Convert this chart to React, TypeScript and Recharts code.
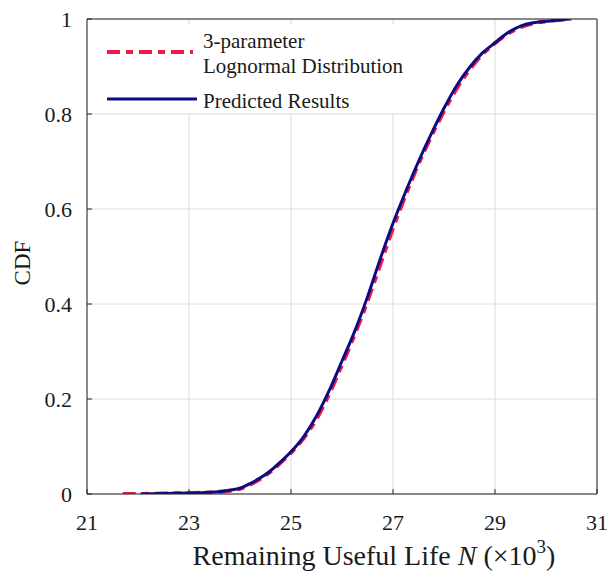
import React from 'react';
import { LineChart, Line, XAxis, YAxis, CartesianGrid, Legend } from 'recharts';

// Remaining useful life (x10^3 cycles) and CDF values
const lognormalN = [21.7, 22.0, 22.5, 23.0, 23.5, 23.8, 24.0, 24.2, 24.4, 24.6, 24.8, 25.0, 25.25, 25.5, 25.75, 26.0, 26.25, 26.5, 26.75, 27.0, 27.25, 27.5, 27.75, 28.0, 28.25, 28.5, 28.75, 29.0, 29.25, 29.5, 29.75, 30.0, 30.25, 30.5];
const lognormalCdf = [0.0, 0.0, 0.001, 0.002, 0.004, 0.007, 0.011, 0.02, 0.032, 0.047, 0.066, 0.087, 0.118, 0.158, 0.211, 0.272, 0.336, 0.406, 0.483, 0.56, 0.63, 0.695, 0.753, 0.806, 0.854, 0.893, 0.925, 0.949, 0.969, 0.983, 0.991, 0.995, 0.998, 1.0];

const predictedN = [22.05, 22.5, 23.0, 23.5, 23.8, 24.0, 24.2, 24.4, 24.6, 24.8, 25.0, 25.25, 25.5, 25.75, 26.0, 26.25, 26.5, 26.75, 27.0, 27.25, 27.5, 27.75, 28.0, 28.25, 28.5, 28.75, 29.0, 29.25, 29.5, 29.75, 30.0, 30.25, 30.47];
const predictedCdf = [0.0, 0.001, 0.002, 0.004, 0.008, 0.012, 0.022, 0.034, 0.049, 0.068, 0.089, 0.121, 0.164, 0.218, 0.28, 0.343, 0.415, 0.495, 0.57, 0.637, 0.7, 0.758, 0.812, 0.86, 0.898, 0.928, 0.95, 0.971, 0.985, 0.992, 0.995, 0.998, 1.0];

const xTicks = [21, 23, 25, 27, 29, 31];
const yTicks = [0, 0.2, 0.4, 0.6, 0.8, 1];

const seriesNames = ['3-parameter', 'Lognormal Distribution', 'Predicted Results'];

const lognormalData = lognormalN.map((n, i) => ({ n, cdf: lognormalCdf[i] }));
const predictedData = predictedN.map((n, i) => ({ n, cdf: predictedCdf[i] }));

const FONT = "Liberation Serif, Times New Roman, DejaVu Serif, serif";
const RED = '#f2184c';
const BLUE = '#0c0c80';
const AXIS = '#262626';
const TEXT = '#1a1a1a';

const renderLegend = () => (
  <svg width={330} height={89} style={{ display: 'block', fontFamily: FONT }}>
    <rect x={0} y={0} width={330} height={89} fill="#ffffff" />
    <line x1={17} x2={103} y1={28} y2={28} stroke={RED} strokeWidth={4} strokeDasharray="13 6 7 6" />
    <text x={113} y={24} fontFamily={FONT} fontSize={21} fill={TEXT}>{seriesNames[0]}</text>
    <text x={113} y={49} fontFamily={FONT} fontSize={21} fill={TEXT}>{seriesNames[1]}</text>
    <line x1={17} x2={107} y1={75} y2={75} stroke={BLUE} strokeWidth={3} />
    <text x={113} y={84} fontFamily={FONT} fontSize={21} fill={TEXT}>{seriesNames[2]}</text>
  </svg>
);

const XLabel = (props: any) => {
  const vb = props.viewBox || { x: 87, width: 510 };
  const cx = vb.x + vb.width / 2 + 32;
  return (
    <text x={cx} y={565} textAnchor="middle" fontFamily={FONT} fontSize={28} fill={TEXT} style={{ fontFamily: FONT }}>
      {'Remaining Useful Life '}
      <tspan fontStyle="italic">N</tspan>
      {' (×10'}
      <tspan dy={-12} fontSize={19}>3</tspan>
      <tspan dy={12}>)</tspan>
    </text>
  );
};

const YLabel = () => (
  <text
    x={22.5}
    y={263}
    transform="rotate(-90, 22.5, 263)"
    textAnchor="middle"
    dominantBaseline="central"
    fontFamily={FONT}
    fontSize={23}
    fill={TEXT}
    style={{ fontFamily: FONT }}
  >
    CDF
  </text>
);

const tickStyle = { fontFamily: FONT, fontSize: 22, fill: TEXT, style: { fontFamily: FONT } };

export default function App() {
  return (
    <div style={{ position: 'absolute', left: 0, top: 0, width: 609, height: 573, background: '#ffffff', fontFamily: FONT }}>
      <LineChart width={609} height={573} margin={{ top: 18, right: 11, bottom: 49, left: 27 }} style={{ fontFamily: FONT }}>
        <CartesianGrid stroke="#dcdcdc" strokeWidth={1} />
        <XAxis
          dataKey="n"
          type="number"
          domain={[21, 31]}
          ticks={xTicks}
          allowDataOverflow
          height={30}
          axisLine={{ stroke: AXIS, strokeWidth: 1 }}
          tickLine={{ stroke: AXIS, strokeWidth: 1 }}
          tickSize={-5}
          tickMargin={25}
          tick={tickStyle}
          label={{ content: (p: any) => <XLabel {...p} /> }}
        />
        <XAxis
          xAxisId="top"
          orientation="top"
          dataKey="n"
          type="number"
          domain={[21, 31]}
          ticks={xTicks}
          allowDataOverflow
          height={1}
          axisLine={{ stroke: AXIS, strokeWidth: 1 }}
          tickLine={{ stroke: AXIS, strokeWidth: 1 }}
          tickSize={-5}
          tick={false}
        />
        <YAxis
          type="number"
          domain={[0, 1]}
          ticks={yTicks}
          allowDataOverflow
          width={60}
          axisLine={{ stroke: AXIS, strokeWidth: 1 }}
          tickLine={{ stroke: AXIS, strokeWidth: 1 }}
          tickSize={-5}
          tickMargin={20}
          tick={tickStyle}
          label={{ content: () => <YLabel /> }}
        />
        <YAxis
          yAxisId="right"
          orientation="right"
          type="number"
          domain={[0, 1]}
          ticks={yTicks}
          allowDataOverflow
          width={1}
          axisLine={{ stroke: AXIS, strokeWidth: 1 }}
          tickLine={{ stroke: AXIS, strokeWidth: 1 }}
          tickSize={-5}
          tick={false}
        />
        <Legend
          layout="horizontal"
          verticalAlign="middle"
          align="center"
          content={renderLegend}
          wrapperStyle={{ left: 90, top: 24, width: 330, height: 89 }}
        />
        <Line
          data={lognormalData}
          dataKey="cdf"
          name="3-parameter Lognormal Distribution"
          type="monotone"
          stroke={RED}
          strokeWidth={4}
          strokeDasharray="13 6 7 6"
          dot={false}
          isAnimationActive={false}
        />
        <Line
          data={predictedData}
          dataKey="cdf"
          name="Predicted Results"
          type="monotone"
          stroke={BLUE}
          strokeWidth={3}
          dot={false}
          isAnimationActive={false}
        />
      </LineChart>
    </div>
  );
}
